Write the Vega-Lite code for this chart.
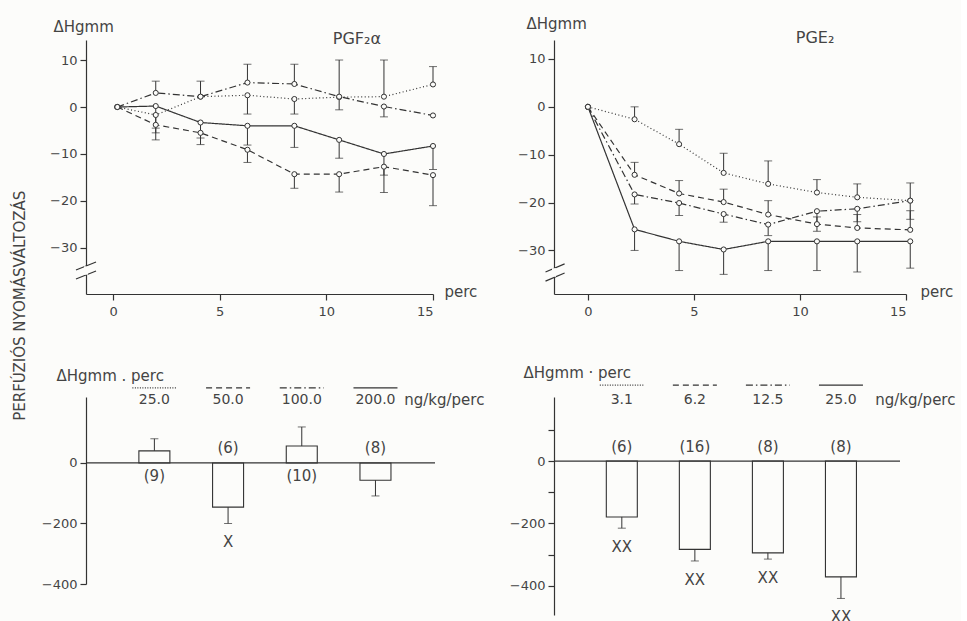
{
  "$schema": "https://vega.github.io/schema/vega-lite/v6.json",
  "background": "#fcfcfa",
  "padding": {"left": 13, "top": 16, "right": 5, "bottom": 0},
  "config": {
    "font": "DejaVu Sans",
    "view": {"stroke": null},
    "axis": {"grid": false, "domainColor": "#333", "tickColor": "#333", "labelColor": "#444", "titleColor": "#444", "labelFontSize": 13, "titleFontSize": 15, "titleFontWeight": "normal", "tickSize": 6, "labelPadding": 3, "domainWidth": 1.2, "tickWidth": 1.2},
    "text": {"color": "#444", "fontSize": 14},
    "title": {"fontWeight": "normal", "fontSize": 15, "color": "#444"}
  },
  "title": {"text": "PERFÚZIÓS NYOMÁSVÁLTOZÁS", "orient": "left", "anchor": "middle", "offset": 13, "dx": 15},
  "datasets": {
    "pgf": [
      {"dose": "25.0", "t": 0.2, "v": 0, "e": null},
      {"dose": "25.0", "t": 2.0, "v": -1.7, "e": -4.5},
      {"dose": "25.0", "t": 4.1, "v": 2.2, "e": 5.5},
      {"dose": "25.0", "t": 6.3, "v": 2.5, "e": -1.5},
      {"dose": "25.0", "t": 8.5, "v": 1.7, "e": -1.5},
      {"dose": "25.0", "t": 10.6, "v": 2.1, "e": 10},
      {"dose": "25.0", "t": 12.7, "v": 2.2, "e": 10},
      {"dose": "25.0", "t": 15.0, "v": 4.8, "e": 8.6},
      {"dose": "50.0", "t": 0.2, "v": 0, "e": null},
      {"dose": "50.0", "t": 2.0, "v": -3.8, "e": -7},
      {"dose": "50.0", "t": 4.1, "v": -5.5, "e": -8},
      {"dose": "50.0", "t": 6.3, "v": -9.1, "e": -11.8},
      {"dose": "50.0", "t": 8.5, "v": -14.3, "e": -17.3},
      {"dose": "50.0", "t": 10.6, "v": -14.3, "e": -18.1},
      {"dose": "50.0", "t": 12.7, "v": -12.7, "e": -18.2},
      {"dose": "50.0", "t": 15.0, "v": -14.5, "e": -21},
      {"dose": "100.0", "t": 0.2, "v": 0, "e": null},
      {"dose": "100.0", "t": 2.0, "v": 3.0, "e": 5.5},
      {"dose": "100.0", "t": 4.1, "v": 2.2, "e": null},
      {"dose": "100.0", "t": 6.3, "v": 5.2, "e": 9.1},
      {"dose": "100.0", "t": 8.5, "v": 4.9, "e": 9.1},
      {"dose": "100.0", "t": 10.6, "v": 2.2, "e": -0.6},
      {"dose": "100.0", "t": 12.7, "v": 0.1, "e": -2.1},
      {"dose": "100.0", "t": 15.0, "v": -1.8, "e": null},
      {"dose": "200.0", "t": 0.2, "v": 0, "e": null},
      {"dose": "200.0", "t": 2.0, "v": 0.2, "e": -5.5},
      {"dose": "200.0", "t": 4.1, "v": -3.3, "e": -6.6},
      {"dose": "200.0", "t": 6.3, "v": -4.0, "e": -8.1},
      {"dose": "200.0", "t": 8.5, "v": -4.0, "e": -8.6},
      {"dose": "200.0", "t": 10.6, "v": -7.0, "e": -10.9},
      {"dose": "200.0", "t": 12.7, "v": -10.0, "e": -14.5},
      {"dose": "200.0", "t": 15.0, "v": -8.3, "e": -13.3}
    ],
    "pge": [
      {"dose": "3.1", "t": 0, "v": 0, "e": null},
      {"dose": "3.1", "t": 2.2, "v": -2.6, "e": 0},
      {"dose": "3.1", "t": 4.3, "v": -7.8, "e": -4.7},
      {"dose": "3.1", "t": 6.4, "v": -13.8, "e": -9.7},
      {"dose": "3.1", "t": 8.5, "v": -16.1, "e": -11.3},
      {"dose": "3.1", "t": 10.8, "v": -17.9, "e": -15.2},
      {"dose": "3.1", "t": 12.7, "v": -18.9, "e": -16.1},
      {"dose": "3.1", "t": 15.2, "v": -19.6, "e": -15.9},
      {"dose": "6.2", "t": 0, "v": 0, "e": null},
      {"dose": "6.2", "t": 2.2, "v": -14.2, "e": -11.6},
      {"dose": "6.2", "t": 4.3, "v": -18.1, "e": -15.4},
      {"dose": "6.2", "t": 6.4, "v": -19.9, "e": -17.2},
      {"dose": "6.2", "t": 8.5, "v": -22.5, "e": -19.6},
      {"dose": "6.2", "t": 10.8, "v": -24.5, "e": -23.0},
      {"dose": "6.2", "t": 12.7, "v": -25.3, "e": -22.5},
      {"dose": "6.2", "t": 15.2, "v": -25.7, "e": -21.7},
      {"dose": "12.5", "t": 0, "v": 0, "e": null},
      {"dose": "12.5", "t": 2.2, "v": -18.3, "e": -20.3},
      {"dose": "12.5", "t": 4.3, "v": -20.1, "e": -22.7},
      {"dose": "12.5", "t": 6.4, "v": -22.4, "e": -24.1},
      {"dose": "12.5", "t": 8.5, "v": -24.6, "e": -26.9},
      {"dose": "12.5", "t": 10.8, "v": -21.8, "e": -26.0},
      {"dose": "12.5", "t": 12.7, "v": -21.3, "e": -24.0},
      {"dose": "12.5", "t": 15.2, "v": -19.6, "e": -23.5},
      {"dose": "25.0", "t": 0, "v": 0, "e": null},
      {"dose": "25.0", "t": 2.2, "v": -25.6, "e": -30},
      {"dose": "25.0", "t": 4.3, "v": -28.1, "e": -34.2},
      {"dose": "25.0", "t": 6.4, "v": -29.8, "e": -35},
      {"dose": "25.0", "t": 8.5, "v": -28.1, "e": -34.2},
      {"dose": "25.0", "t": 10.8, "v": -28.1, "e": -34.2},
      {"dose": "25.0", "t": 12.7, "v": -28.1, "e": -34.5},
      {"dose": "25.0", "t": 15.2, "v": -28.1, "e": -33.7}
    ],
    "pgfbar": [
      {"pos": 1, "dose": "25.0", "v": 40, "e": 80, "n": "(9)", "sig": ""},
      {"pos": 2, "dose": "50.0", "v": -146, "e": -200, "n": "(6)", "sig": "X"},
      {"pos": 3, "dose": "100.0", "v": 56, "e": 119, "n": "(10)", "sig": ""},
      {"pos": 4, "dose": "200.0", "v": -57, "e": -109, "n": "(8)", "sig": ""}
    ],
    "pgebar": [
      {"pos": 1, "dose": "3.1", "v": -179, "e": -215, "n": "(6)", "sig": "XX"},
      {"pos": 2, "dose": "6.2", "v": -283, "e": -320, "n": "(16)", "sig": "XX"},
      {"pos": 3, "dose": "12.5", "v": -294, "e": -314, "n": "(8)", "sig": "XX"},
      {"pos": 4, "dose": "25.0", "v": -371, "e": -440, "n": "(8)", "sig": "XX"}
    ],
    "brkA": [
      {"bx": -1.74, "by": -34.7, "bx2": -0.8, "by2": -33.0},
      {"bx": -1.74, "by": -36.6, "bx2": -0.8, "by2": -34.9}
    ],
    "brkB": [
      {"bx": -2.0, "by": -34.5, "bx2": -1.1, "by2": -32.8},
      {"bx": -2.0, "by": -36.4, "bx2": -1.1, "by2": -34.7}
    ]
  },
  "spacing": 24,
  "resolve": {"scale": {"strokeDash": "independent", "x": "independent", "y": "independent"}},
  "hconcat": [
    {
      "bounds": "flush",
      "spacing": 103,
      "resolve": {"scale": {"strokeDash": "independent", "x": "independent", "y": "independent"}},
      "vconcat": [
        {
          "width": 347, "height": 254,
          "data": {"name": "pgf"},
          "layer": [
            {
              "mark": {"type": "line", "color": "#333", "strokeWidth": 1.2},
              "encoding": {
                "x": {"field": "t", "type": "quantitative", "title": "perc", "scale": {"domain": [-1.27, 15], "nice": false, "zero": false},
                      "axis": {"values": [0, 5, 10, 15], "titleX": 358, "titleY": -3, "titleAlign": "left", "titleBaseline": "middle", "labelPadding": 5}},
                "y": {"field": "v", "type": "quantitative", "title": "ΔHgmm", "scale": {"domain": [-39.8, 14.26], "nice": false, "zero": false},
                      "axis": {"values": [10, 0, -10, -20, -30], "titleAngle": 0, "titleAlign": "left", "titleBaseline": "alphabetic", "titleX": -33, "titleY": -9}},
                "strokeDash": {"field": "dose", "type": "nominal", "legend": null,
                               "scale": {"domain": ["25.0", "50.0", "100.0", "200.0"], "range": [[1, 2.5], [6, 4], [7, 3, 1.5, 3], [1, 0]]}}
              }
            },
            {
              "transform": [{"filter": "datum.e != null"}],
              "mark": {"type": "rule", "color": "#333", "strokeWidth": 1},
              "encoding": {
                "x": {"field": "t", "type": "quantitative", "title": "perc"},
                "y": {"field": "v", "type": "quantitative", "title": "ΔHgmm"},
                "y2": {"field": "e"}
              }
            },
            {
              "transform": [{"filter": "datum.e != null"}],
              "mark": {"type": "tick", "orient": "horizontal", "size": 8, "thickness": 1, "color": "#333"},
              "encoding": {
                "x": {"field": "t", "type": "quantitative", "title": "perc"},
                "y": {"field": "e", "type": "quantitative", "title": "ΔHgmm"}
              }
            },
            {
              "mark": {"type": "point", "shape": "circle", "filled": true, "fill": "#fcfcfa", "stroke": "#333", "strokeWidth": 1, "size": 26, "opacity": 1},
              "encoding": {
                "x": {"field": "t", "type": "quantitative", "title": "perc"},
                "y": {"field": "v", "type": "quantitative", "title": "ΔHgmm"}
              }
            },
            {
              "data": {"name": "brkA"},
              "mark": {"type": "rule", "color": "#333", "strokeWidth": 1.2},
              "encoding": {
                "x": {"field": "bx", "type": "quantitative", "title": "perc"},
                "y": {"field": "by", "type": "quantitative", "title": "ΔHgmm"},
                "x2": {"field": "bx2"},
                "y2": {"field": "by2"}
              }
            },
            {
              "data": {"values": [{}]},
              "mark": {"type": "rule", "color": "#fcfcfa", "strokeWidth": 4},
              "encoding": {"x": {"datum": -1.27}, "y": {"datum": -35.7}, "y2": {"datum": -33.9}}
            },
            {
              "data": {"values": [{}]},
              "mark": {"type": "text", "align": "left", "baseline": "middle", "fontSize": 16},
              "encoding": {"x": {"datum": 10.3}, "y": {"datum": 14.5}, "text": {"value": "PGF₂α"}}
            }
          ]
        },
        {
          "width": 349, "height": 187,
          "data": {"name": "pgfbar"},
          "layer": [
            {
              "mark": {"type": "bar", "orient": "vertical", "width": 31, "fill": "#fcfcfa", "stroke": "#333", "strokeWidth": 1.1},
              "encoding": {
                "x": {"field": "pos", "type": "quantitative", "scale": {"domain": [0.14, 4.74], "nice": false, "zero": false}, "axis": null},
                "y": {"field": "v", "type": "quantitative", "title": "ΔHgmm . perc", "scale": {"domain": [-400, 218], "nice": false, "zero": false},
                      "axis": {"values": [100, 0, -100, -200, -300, -400], "labelExpr": "datum.value % 200 == 0 ? datum.label : ''", "titleAngle": 0, "titleAlign": "left", "titleBaseline": "middle", "titleX": -30, "titleY": -22}},
                "y2": {"datum": 0}
              }
            },
            {
              "data": {"values": [{}]},
              "mark": {"type": "rule", "color": "#333", "strokeWidth": 1.2},
              "encoding": {"y": {"datum": 0}}
            },
            {
              "mark": {"type": "rule", "color": "#333", "strokeWidth": 1},
              "encoding": {
                "x": {"field": "pos", "type": "quantitative"},
                "y": {"field": "v", "type": "quantitative", "title": "ΔHgmm . perc"},
                "y2": {"field": "e"}
              }
            },
            {
              "mark": {"type": "tick", "orient": "horizontal", "size": 8, "thickness": 1, "color": "#333"},
              "encoding": {
                "x": {"field": "pos", "type": "quantitative"},
                "y": {"field": "e", "type": "quantitative", "title": "ΔHgmm . perc"}
              }
            },
            {
              "transform": [{"filter": "datum.v > 0"}],
              "mark": {"type": "text", "baseline": "middle", "fontSize": 15},
              "encoding": {"x": {"field": "pos", "type": "quantitative"}, "y": {"datum": -43}, "text": {"field": "n"}}
            },
            {
              "transform": [{"filter": "datum.v < 0"}],
              "mark": {"type": "text", "baseline": "middle", "fontSize": 15},
              "encoding": {"x": {"field": "pos", "type": "quantitative"}, "y": {"datum": 50}, "text": {"field": "n"}}
            },
            {
              "mark": {"type": "text", "baseline": "top", "dy": 12, "fontSize": 15},
              "encoding": {"x": {"field": "pos", "type": "quantitative"}, "y": {"field": "e", "type": "quantitative", "title": "ΔHgmm . perc"}, "text": {"field": "sig"}}
            },
            {
              "mark": {"type": "rule", "color": "#333", "strokeWidth": 1.1, "xOffset": -22, "x2Offset": 22},
              "encoding": {
                "x": {"field": "pos", "type": "quantitative"},
                "x2": {"field": "pos"},
                "y": {"datum": 248},
                "strokeDash": {"field": "dose", "type": "nominal", "legend": null,
                               "scale": {"domain": ["25.0", "50.0", "100.0", "200.0"], "range": [[1, 1.5], [6, 4], [7, 3, 1.5, 3], [1, 0]]}}
              }
            },
            {
              "mark": {"type": "text", "baseline": "middle", "fontSize": 14},
              "encoding": {"x": {"field": "pos", "type": "quantitative"}, "y": {"datum": 208}, "text": {"field": "dose"}}
            },
            {
              "data": {"values": [{}]},
              "mark": {"type": "text", "align": "left", "baseline": "middle", "fontSize": 15},
              "encoding": {"x": {"datum": 4.39}, "y": {"datum": 208}, "text": {"value": "ng/kg/perc"}}
            }
          ]
        }
      ]
    },
    {
      "bounds": "flush",
      "spacing": 103,
      "resolve": {"scale": {"strokeDash": "independent", "x": "independent", "y": "independent"}},
      "vconcat": [
        {
          "width": 352, "height": 254,
          "data": {"name": "pge"},
          "layer": [
            {
              "mark": {"type": "line", "color": "#333", "strokeWidth": 1.2},
              "encoding": {
                "x": {"field": "t", "type": "quantitative", "title": "perc", "scale": {"domain": [-1.6, 15], "nice": false, "zero": false},
                      "axis": {"values": [0, 5, 10, 15], "titleX": 366, "titleY": -3, "titleAlign": "left", "titleBaseline": "middle", "labelPadding": 5}},
                "y": {"field": "v", "type": "quantitative", "title": "ΔHgmm", "scale": {"domain": [-39.1, 13.96], "nice": false, "zero": false},
                      "axis": {"values": [10, 0, -10, -20, -30], "titleAngle": 0, "titleAlign": "left", "titleBaseline": "alphabetic", "titleX": -28, "titleY": -12}},
                "strokeDash": {"field": "dose", "type": "nominal", "legend": null,
                               "scale": {"domain": ["3.1", "6.2", "12.5", "25.0"], "range": [[1, 2.5], [6, 4], [7, 3, 1.5, 3], [1, 0]]}}
              }
            },
            {
              "transform": [{"filter": "datum.e != null"}],
              "mark": {"type": "rule", "color": "#333", "strokeWidth": 1},
              "encoding": {
                "x": {"field": "t", "type": "quantitative", "title": "perc"},
                "y": {"field": "v", "type": "quantitative", "title": "ΔHgmm"},
                "y2": {"field": "e"}
              }
            },
            {
              "transform": [{"filter": "datum.e != null"}],
              "mark": {"type": "tick", "orient": "horizontal", "size": 8, "thickness": 1, "color": "#333"},
              "encoding": {
                "x": {"field": "t", "type": "quantitative", "title": "perc"},
                "y": {"field": "e", "type": "quantitative", "title": "ΔHgmm"}
              }
            },
            {
              "mark": {"type": "point", "shape": "circle", "filled": true, "fill": "#fcfcfa", "stroke": "#333", "strokeWidth": 1, "size": 26, "opacity": 1},
              "encoding": {
                "x": {"field": "t", "type": "quantitative", "title": "perc"},
                "y": {"field": "v", "type": "quantitative", "title": "ΔHgmm"}
              }
            },
            {
              "data": {"name": "brkB"},
              "mark": {"type": "rule", "color": "#333", "strokeWidth": 1.2},
              "encoding": {
                "x": {"field": "bx", "type": "quantitative", "title": "perc"},
                "y": {"field": "by", "type": "quantitative", "title": "ΔHgmm"},
                "x2": {"field": "bx2"},
                "y2": {"field": "by2"}
              }
            },
            {
              "data": {"values": [{}]},
              "mark": {"type": "rule", "color": "#fcfcfa", "strokeWidth": 4},
              "encoding": {"x": {"datum": -1.6}, "y": {"datum": -35.5}, "y2": {"datum": -33.7}}
            },
            {
              "data": {"values": [{}]},
              "mark": {"type": "text", "align": "left", "baseline": "middle", "fontSize": 16},
              "encoding": {"x": {"datum": 9.8}, "y": {"datum": 14.3}, "text": {"value": "PGE₂"}}
            }
          ]
        },
        {
          "width": 346, "height": 218,
          "data": {"name": "pgebar"},
          "layer": [
            {
              "mark": {"type": "bar", "orient": "vertical", "width": 31, "fill": "#fcfcfa", "stroke": "#333", "strokeWidth": 1.1},
              "encoding": {
                "x": {"field": "pos", "type": "quantitative", "scale": {"domain": [0.14, 4.74], "nice": false, "zero": false}, "axis": null},
                "y": {"field": "v", "type": "quantitative", "title": "ΔHgmm · perc", "scale": {"domain": [-493, 205], "nice": false, "zero": false},
                      "axis": {"values": [100, 0, -100, -200, -300, -400], "labelExpr": "datum.value % 200 == 0 ? datum.label : ''", "titleAngle": 0, "titleAlign": "left", "titleBaseline": "middle", "titleX": -31, "titleY": -25}},
                "y2": {"datum": 0}
              }
            },
            {
              "data": {"values": [{}]},
              "mark": {"type": "rule", "color": "#333", "strokeWidth": 1.2},
              "encoding": {"y": {"datum": 0}}
            },
            {
              "mark": {"type": "rule", "color": "#333", "strokeWidth": 1},
              "encoding": {
                "x": {"field": "pos", "type": "quantitative"},
                "y": {"field": "v", "type": "quantitative", "title": "ΔHgmm · perc"},
                "y2": {"field": "e"}
              }
            },
            {
              "mark": {"type": "tick", "orient": "horizontal", "size": 8, "thickness": 1, "color": "#333"},
              "encoding": {
                "x": {"field": "pos", "type": "quantitative"},
                "y": {"field": "e", "type": "quantitative", "title": "ΔHgmm · perc"}
              }
            },
            {
              "mark": {"type": "text", "baseline": "middle", "fontSize": 15},
              "encoding": {"x": {"field": "pos", "type": "quantitative"}, "y": {"datum": 45}, "text": {"field": "n"}}
            },
            {
              "mark": {"type": "text", "baseline": "top", "dy": 12, "fontSize": 15},
              "encoding": {"x": {"field": "pos", "type": "quantitative"}, "y": {"field": "e", "type": "quantitative", "title": "ΔHgmm · perc"}, "text": {"field": "sig"}}
            },
            {
              "mark": {"type": "rule", "color": "#333", "strokeWidth": 1.1, "xOffset": -22, "x2Offset": 22},
              "encoding": {
                "x": {"field": "pos", "type": "quantitative"},
                "x2": {"field": "pos"},
                "y": {"datum": 243},
                "strokeDash": {"field": "dose", "type": "nominal", "legend": null,
                               "scale": {"domain": ["3.1", "6.2", "12.5", "25.0"], "range": [[1, 1.5], [6, 4], [7, 3, 1.5, 3], [1, 0]]}}
              }
            },
            {
              "mark": {"type": "text", "baseline": "middle", "fontSize": 14},
              "encoding": {"x": {"field": "pos", "type": "quantitative"}, "y": {"datum": 195}, "text": {"field": "dose"}}
            },
            {
              "data": {"values": [{}]},
              "mark": {"type": "text", "align": "left", "baseline": "middle", "fontSize": 15},
              "encoding": {"x": {"datum": 4.47}, "y": {"datum": 195}, "text": {"value": "ng/kg/perc"}}
            }
          ]
        }
      ]
    }
  ]
}
